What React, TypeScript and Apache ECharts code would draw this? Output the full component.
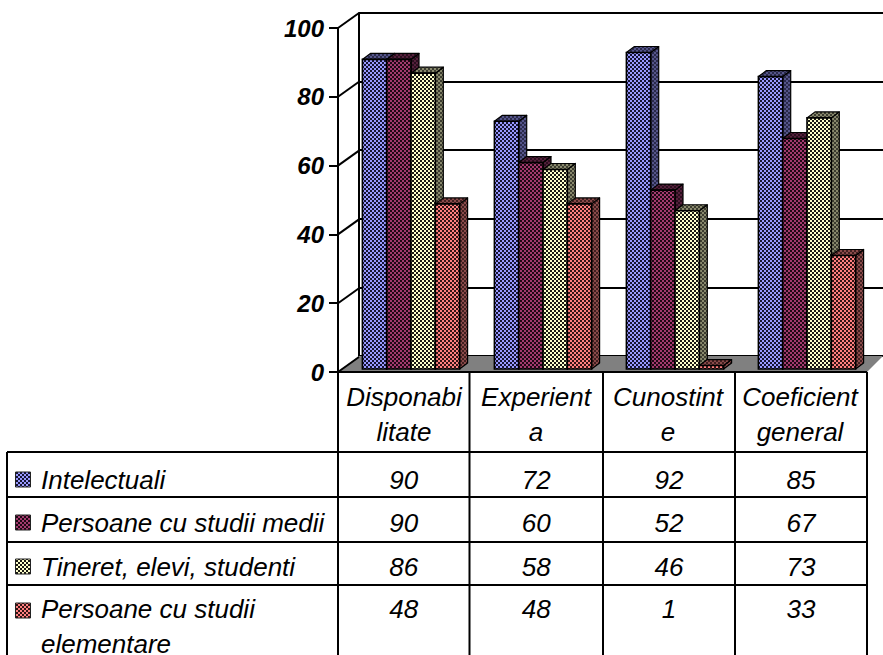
import React, { useEffect, useRef } from "react";
import * as echarts from "echarts";

const categories = ["Disponabi\nlitate", "Experient\na", "Cunostint\ne", "Coeficient\ngeneral"];
const seriesNames = ["Intelectuali", "Persoane cu studii medii", "Tineret, elevi, studenti", "Persoane cu studii\nelementare"];
const intelectuali = [90, 72, 92, 85];
const studiiMedii = [90, 60, 52, 67];
const tineret = [86, 58, 46, 73];
const studiiElementare = [48, 48, 1, 33];
const seriesValues = [intelectuali, studiiMedii, tineret, studiiElementare];
const faceColors = ["#9999ff", "#a33a6e", "#ffffcc", "#ff8080"];
const faceDarks = ["#141433", "#1f0814", "#1a1a14", "#331414"];
const sideColors = ["#55558a", "#55203c", "#88886c", "#8a4a4a"];
const sideDarks = ["#2a2a4a", "#2a0f1e", "#3c3c30", "#402020"];
const yTicks = [0, 20, 40, 60, 80, 100];

const FONT = "'Liberation Sans', Arial, sans-serif";
const W = 883;
const H = 655;
const FRONT = { left: 338, top: 28, width: 528, height: 344 };
const BACK = { left: 359, top: 13, width: 540, height: 343 };
const WALL_DX = 21;
const WALL_DY = -15;
const BAR_W = 24.3;
const BAR_DX = 8;
const BAR_DY = -6;
const columnLines = [338, 469.5, 603, 735, 867];
const rowLines = [452, 497, 542, 585];
const rowCenters = [480, 523, 567, 609];
const keyTops = [472, 515, 559, 603];

// 2px two-tone checker used by every bar face
function checker(color: string, dark: string) {
  const c = document.createElement("canvas");
  c.width = 4;
  c.height = 4;
  const g = c.getContext("2d")!;
  g.fillStyle = color;
  g.fillRect(0, 0, 4, 4);
  g.fillStyle = dark;
  g.fillRect(0, 0, 2, 2);
  g.fillRect(2, 2, 2, 2);
  return { image: c, repeat: "repeat", imageWidth: 4, imageHeight: 4 };
}

function hLine(x1: number, x2: number, y: number) {
  return { type: "line", z: 5, shape: { x1, y1: y, x2, y2: y }, style: { stroke: "#000", lineWidth: 2 } };
}
function vLine(x: number, y1: number, y2: number) {
  return { type: "line", z: 5, shape: { x1: x, y1, x2: x, y2 }, style: { stroke: "#000", lineWidth: 2 } };
}
function cellText(text: string, x: number, y: number, align: string) {
  return {
    type: "text",
    z: 6,
    x,
    y,
    style: {
      text,
      x: 0,
      y: 0,
      align,
      verticalAlign: "middle",
      fill: "#000",
      font: `italic 26px ${FONT}`,
      lineHeight: 35,
    },
  };
}

export default function App() {
  const ref = useRef<HTMLDivElement>(null);

  useEffect(() => {
    const chart = echarts.init(ref.current!, undefined, { renderer: "svg", width: W, height: H });
    const facePatterns = faceColors.map((c, i) => checker(c, faceDarks[i]));
    const sidePatterns = sideColors.map((c, i) => checker(c, sideDarks[i]));

    const barSeries = seriesValues.map((values, s) => ({
      type: "custom",
      name: seriesNames[s],
      coordinateSystem: "cartesian2d",
      xAxisIndex: 0,
      yAxisIndex: 0,
      z: 4 + s,
      data: values.map((v, i) => [i, v]),
      encode: { x: 0, y: 1 },
      renderItem: (_: any, api: any) => {
        const idx = api.value(0);
        const top = api.coord([idx, api.value(1)]);
        const base = api.coord([idx, 0]);
        const x0 = top[0] + 7 + (s - 2) * BAR_W;
        const x1 = x0 + BAR_W;
        const y0 = top[1] - 3;
        const y1 = base[1] - 3;
        const edge = { stroke: "#000", lineWidth: 1.2, lineJoin: "round" };
        return {
          type: "group",
          children: [
            {
              type: "polygon",
              shape: { points: [[x1, y0], [x1 + BAR_DX, y0 + BAR_DY], [x1 + BAR_DX, y1 + BAR_DY], [x1, y1]] },
              style: { fill: sidePatterns[s], ...edge },
            },
            {
              type: "polygon",
              shape: { points: [[x0, y0], [x0 + BAR_DX, y0 + BAR_DY], [x1 + BAR_DX, y0 + BAR_DY], [x1, y0]] },
              style: { fill: sidePatterns[s], ...edge },
            },
            {
              type: "polygon",
              shape: { points: [[x0, y0], [x1, y0], [x1, y1], [x0, y1]] },
              style: { fill: facePatterns[s], stroke: "#000", lineWidth: 1.6 },
            },
          ],
        };
      },
    }));

    // Sloped side wall: one diagonal from the front axis to the back wall per tick
    const wallSeries = {
      type: "custom",
      coordinateSystem: "cartesian2d",
      xAxisIndex: 0,
      yAxisIndex: 0,
      z: 3,
      data: yTicks.map((t) => [0, t]),
      encode: { x: 0, y: 1 },
      renderItem: (_: any, api: any) => {
        const p = api.coord([0, api.value(1)]);
        const y = p[1];
        return {
          type: "line",
          shape: { x1: FRONT.left, y1: y, x2: FRONT.left + WALL_DX, y2: y + WALL_DY },
          style: { stroke: "#000", lineWidth: 2 },
        };
      },
    };

    const floorSeries = {
      type: "custom",
      coordinateSystem: "cartesian2d",
      xAxisIndex: 0,
      yAxisIndex: 0,
      z: 2,
      data: [[0, 0]],
      encode: { x: 0, y: 1 },
      renderItem: () => ({
        type: "polygon",
        shape: {
          points: [
            [FRONT.left, FRONT.top + FRONT.height],
            [BACK.left, BACK.top + BACK.height],
            [W, BACK.top + BACK.height],
            [columnLines[4], FRONT.top + FRONT.height],
          ],
        },
        style: { fill: "#808080", stroke: "none" },
      }),
    };

    const table: any[] = [
      hLine(7, 867, rowLines[0]),
      hLine(7, 867, rowLines[1]),
      hLine(7, 867, rowLines[2]),
      hLine(7, 867, rowLines[3]),
      hLine(FRONT.left - 8, 867, FRONT.top + FRONT.height),
      vLine(7, rowLines[0], H),
      ...columnLines.map((x) => vLine(x, FRONT.top + FRONT.height, H)),
    ];
    seriesValues.forEach((values, s) => {
      table.push({
        type: "rect",
        z: 6,
        shape: { x: 15.5, y: keyTops[s], width: 15, height: 15 },
        style: { fill: facePatterns[s], stroke: "#222", lineWidth: 1 },
      });
      const label = cellText(seriesNames[s], 41, s === 3 ? rowCenters[s] + 17.5 : rowCenters[s], "left");
      table.push(label);
      values.forEach((v, i) => {
        const mid = (columnLines[i] + columnLines[i + 1]) / 2;
        table.push(cellText(String(v), mid, rowCenters[s], "center"));
      });
    });

    chart.setOption({
      animation: false,
      backgroundColor: "#fff",
      tooltip: { show: false },
      legend: { show: false },
      grid: [
        { ...FRONT, containLabel: false },
        { ...BACK, containLabel: false },
      ],
      xAxis: [
        {
          type: "category",
          gridIndex: 0,
          data: categories,
          axisLine: { show: false },
          axisTick: { show: false },
          axisLabel: {
            margin: 7,
            color: "#000",
            fontFamily: FONT,
            fontStyle: "italic",
            fontSize: 26,
            lineHeight: 35,
            interval: 0,
          },
        },
        {
          type: "category",
          gridIndex: 1,
          data: categories,
          axisLine: { show: true, lineStyle: { color: "#000", width: 2 } },
          axisTick: { show: false },
          axisLabel: { show: false },
        },
      ],
      yAxis: [
        {
          type: "value",
          gridIndex: 0,
          min: 0,
          max: 100,
          interval: 20,
          axisLine: { show: true, lineStyle: { color: "#000", width: 2 } },
          axisTick: { show: true, length: 9, lineStyle: { color: "#000", width: 2 } },
          splitLine: { show: false },
          axisLabel: {
            margin: 14,
            color: "#000",
            fontFamily: FONT,
            fontStyle: "italic",
            fontWeight: "bold",
            fontSize: 24,
          },
        },
        {
          type: "value",
          gridIndex: 1,
          min: 0,
          max: 100,
          interval: 20,
          axisLine: { show: true, lineStyle: { color: "#000", width: 2 } },
          axisTick: { show: false },
          axisLabel: { show: false },
          splitLine: { show: true, lineStyle: { color: "#000", width: 2 } },
        },
      ],
      graphic: { elements: table },
      series: [floorSeries, wallSeries, ...barSeries],
    });

    return () => chart.dispose();
  }, []);

  return (
    <div style={{ position: "fixed", left: 0, top: 0, width: W, height: H, background: "#fff" }}>
      <div ref={ref} style={{ width: W, height: H }} />
    </div>
  );
}
